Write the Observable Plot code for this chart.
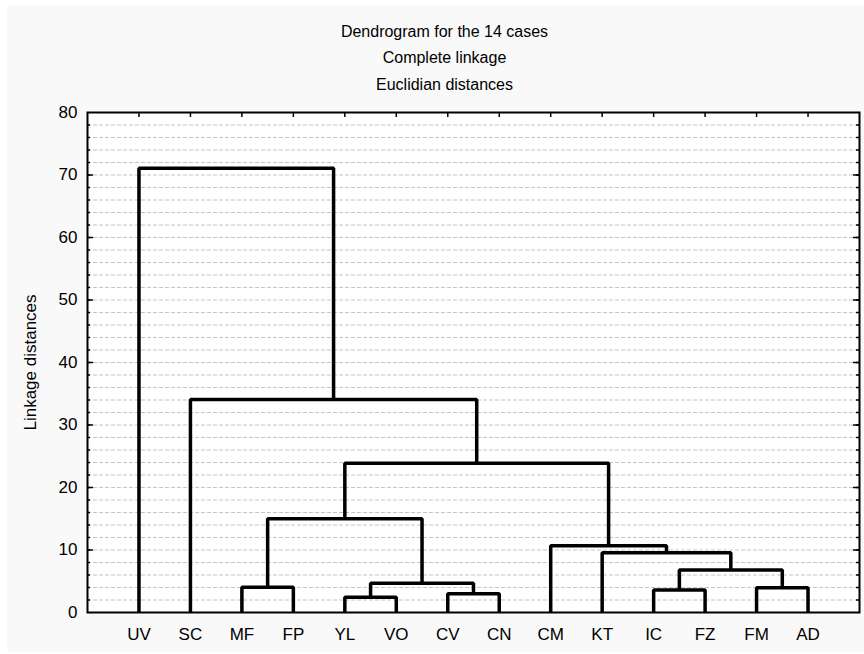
<!DOCTYPE html>
<html>
<head>
<meta charset="utf-8">
<script src="https://cdn.jsdelivr.net/npm/d3@7"></script>
<script src="https://cdn.jsdelivr.net/npm/@observablehq/plot@0.6"></script>
<style>
  html, body { margin: 0; padding: 0; background: #ffffff; }
  #panel {
    position: absolute; left: 7px; top: 5px; width: 857px; height: 647px;
    background: #f9f9f9; font-family: "Liberation Sans", Arial, sans-serif; color: #000;
  }
  .title {
    position: absolute; left: 9px; width: 100%; text-align: center;
    font-size: 16px; line-height: 20px; height: 20px;
  }
  #chart { position: absolute; left: 0; top: 90px; }
</style>
</head>
<body>
<div id="panel">
  <div class="title" style="top:17px">Dendrogram for the 14 cases</div>
  <div class="title" style="top:43px">Complete linkage</div>
  <div class="title" style="top:70px">Euclidian distances</div>
  <div id="chart"></div>
</div>
<script>
// Cases, in leaf order along the horizontal axis
const leaves = ["UV", "SC", "MF", "FP", "YL", "VO", "CV", "CN", "CM", "KT", "IC", "FZ", "FM", "AD"];

// Agglomeration steps: a number refers to the cluster formed at that earlier step
const joinA = ["YL", "CV", "IC", "FM", "MF", 0, 2, "KT", "CM", 4, 9, "SC", "UV"];
const joinB = ["VO", "CN", "FZ", "AD", "FP", 1, 3, 6, 7, 5, 8, 10, 11];
const joinHeight = [2.45, 3.0, 3.6, 3.95, 4.05, 4.7, 6.8, 9.55, 10.7, 15.0, 23.9, 34.1, 71.1];

// Axis ticks
const yTickLabels = [0, 10, 20, 30, 40, 50, 60, 70, 80];
const yMinorTicks = d3.range(2, 80, 2);
const yMajorTicks = [10, 20, 30, 40, 50, 60, 70];

// Build one ⊓-shaped polyline per join from the children's positions
const nodeX = {}, nodeH = {};
leaves.forEach((name, i) => { nodeX[name] = i + 1; nodeH[name] = 0; });
const ref = (c) => (typeof c === "number" ? "#" + c : c);
const links = [];
joinHeight.forEach((h, k) => {
  const a = ref(joinA[k]), b = ref(joinB[k]);
  links.push(
    {k, x: nodeX[a], y: nodeH[a]},
    {k, x: nodeX[a], y: h},
    {k, x: nodeX[b], y: h},
    {k, x: nodeX[b], y: nodeH[b]}
  );
  nodeX["#" + k] = (nodeX[a] + nodeX[b]) / 2;
  nodeH["#" + k] = h;
});

const W = 857, H = 557, mL = 80, mR = 5, mT = 17, mB = 40;
const innerW = W - mL - mR, innerH = H - mT - mB;
const leafPos = leaves.map((d, i) => i + 1);

const chart = Plot.plot({
  width: W,
  height: H,
  marginLeft: mL,
  marginRight: mR,
  marginTop: mT,
  marginBottom: mB,
  style: {background: "transparent", fontFamily: "'Liberation Sans', Arial, sans-serif", fontSize: "17px", color: "#000"},
  x: {domain: [0, 15], axis: null},
  y: {domain: [0, 80], axis: null},
  marks: [
    Plot.frame({fill: "#ffffff", stroke: null}),
    Plot.ruleY(yMinorTicks, {stroke: "#c4c4c4", strokeWidth: 1, strokeDasharray: "4,2"}),
    Plot.line(links, {x: "x", y: "y", z: "k", stroke: "#000", strokeWidth: 3.5, strokeLinejoin: "miter", strokeLinecap: "butt"}),
    // inward ticks on the left, right and top edges
    Plot.tickY(yMinorTicks, {y: d => d, stroke: "#000", strokeWidth: 1.5, insetRight: innerW - 3}),
    Plot.tickY(yMajorTicks, {y: d => d, stroke: "#000", strokeWidth: 1.5, insetRight: innerW - 6}),
    Plot.tickY(yMinorTicks, {y: d => d, stroke: "#000", strokeWidth: 1.5, insetLeft: innerW - 3}),
    Plot.tickY(yMajorTicks, {y: d => d, stroke: "#000", strokeWidth: 1.5, insetLeft: innerW - 6}),
    Plot.tickX(leafPos, {x: d => d, stroke: "#000", strokeWidth: 1.5, insetBottom: innerH - 5}),
    Plot.frame({stroke: "#000", strokeWidth: 2}),
    Plot.axisY({ticks: yTickLabels, tickSize: 0, tickPadding: 10, label: null}),
    Plot.axisX({ticks: leafPos, tickSize: 0, tickPadding: 15, tickFormat: (i) => leaves[i - 1], label: null}),
    Plot.text(["Linkage distances"], {frameAnchor: "left", textAnchor: "middle", rotate: -90, dx: -57, fontSize: 17, fill: "#000"})
  ]
});
document.getElementById("chart").appendChild(chart);
</script>
</body>
</html>
